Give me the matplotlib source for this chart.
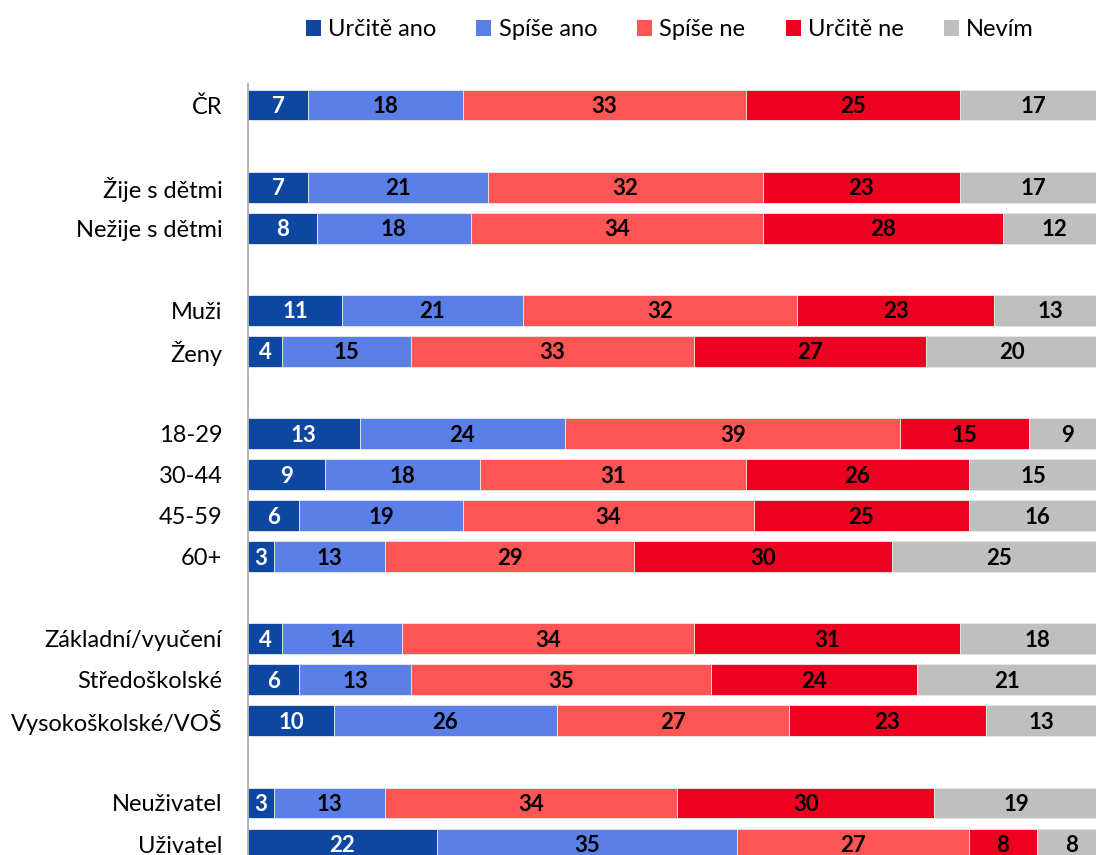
import numpy as np
import matplotlib.pyplot as plt
from matplotlib.patches import Patch

plt.rcParams['font.family'] = ['Lato', 'DejaVu Sans']

# skupiny respondentu, prazdne retezce = mezera mezi bloky
groups = ['ČR', '', 'Žije s dětmi', 'Nežije s dětmi', '', 'Muži', 'Ženy', '',
          '18-29', '30-44', '45-59', '60+', '',
          'Základní/vyučení', 'Středoškolské', 'Vysokoškolské/VOŠ', '',
          'Neuživatel', 'Uživatel']

answers = ['Určitě ano', 'Spíše ano', 'Spíše ne', 'Určitě ne', 'Nevím']

urcite_ano = [7, None, 7, 8, None, 11, 4, None, 13, 9, 6, 3, None, 4, 6, 10, None, 3, 22]
spise_ano = [18, None, 21, 18, None, 21, 15, None, 24, 18, 19, 13, None, 14, 13, 26, None, 13, 35]
spise_ne = [33, None, 32, 34, None, 32, 33, None, 39, 31, 34, 29, None, 34, 35, 27, None, 34, 27]
urcite_ne = [25, None, 23, 28, None, 23, 27, None, 15, 26, 25, 30, None, 31, 24, 23, None, 30, 8]
nevim = [17, None, 17, 12, None, 13, 20, None, 9, 15, 16, 25, None, 18, 21, 13, None, 19, 8]

series = [urcite_ano, spise_ano, spise_ne, urcite_ne, nevim]
colors = ['#0E47A1', '#5A7FE6', '#FF5555', '#EE0020', '#BFBFBF']
text_colors = ['white', 'black', 'black', 'black', 'black']

fig = plt.figure(figsize=(10.96, 8.55), dpi=100)
ax = fig.add_axes([248 / 1096, -0.0112, 858 / 1096, 0.9124])

y = np.arange(len(groups))
left = np.zeros(len(groups))
for vals, col, tcol in zip(series, colors, text_colors):
    v = np.array([0 if x is None else x for x in vals], dtype=float)
    ax.barh(y, v, left=left, height=0.75, color=col, edgecolor='#E8E8E8', linewidth=0.6)
    for i, x in enumerate(vals):
        if x is None:
            continue
        ax.text(left[i] + x / 2, y[i] + 0.04, str(x), ha='center', va='center',
                color=tcol, fontsize=16, fontweight='bold')
    left += v

ax.set_xlim(0, 100)
ax.set_ylim(len(groups) - 0.5, -0.5)
ax.set_yticks(y)
ax.set_yticklabels(groups, fontsize=17)
ax.tick_params(axis='y', length=0, pad=18.5)
ax.set_xticks([])
for s in ['top', 'right', 'bottom']:
    ax.spines[s].set_visible(False)
ax.spines['left'].set_color('#A6A6A6')
ax.spines['left'].set_linewidth(1.2)

handles = [Patch(facecolor=c, label=a) for a, c in zip(answers, colors)]
fig.legend(handles=handles, loc='center', bbox_to_anchor=(0.611, 1 - 30 / 855),
           ncol=5, frameon=False, fontsize=17, handlelength=0.64, handleheight=0.64,
           handletextpad=0.3, columnspacing=1.7)

fig.savefig('out.png', dpi=100)
